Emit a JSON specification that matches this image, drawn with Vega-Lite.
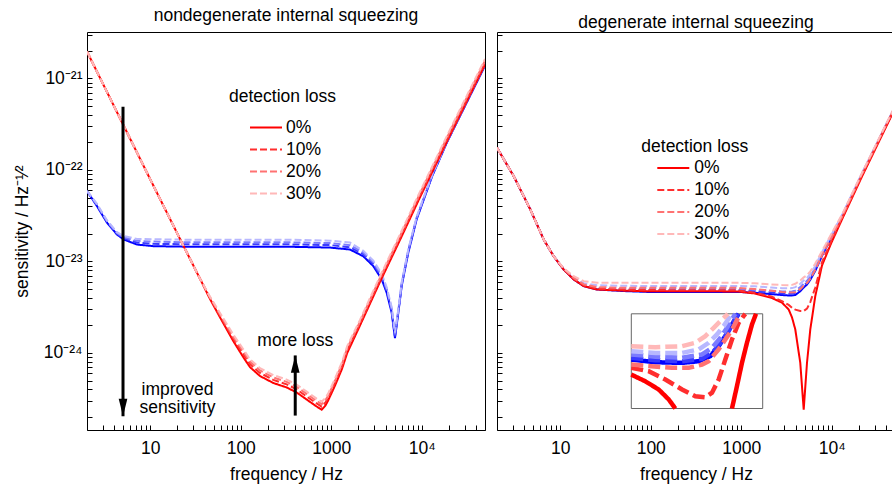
{
"$schema": "https://vega.github.io/schema/vega-lite/v6.json",
"background": "white",
"padding": {"left": 12, "top": 6, "right": 0, "bottom": 0},
"config": {
  "font": "Liberation Sans",
  "view": {"stroke": "#000000", "strokeWidth": 1},
  "axis": {"grid": false, "domain": false, "tickColor": "#000000", "tickWidth": 1, "tickSize": -5, "labelColor": "#000000", "labelFontSize": 17.5, "titleColor": "#000000", "titleFontSize": 17.5, "titleFontWeight": "normal", "labelOverlap": false, "labelFlush": false},
  "title": {"fontSize": 17.5, "fontWeight": "normal", "color": "#000000", "frame": "group", "offset": 1},
  "legend": {"symbolType": "M-2,0L2,0", "symbolSize": 256, "symbolStrokeWidth": 2, "labelFontSize": 17.5, "titleFontSize": 17.5, "titleFontWeight": "normal", "labelColor": "#000000", "titleColor": "#000000", "rowPadding": 4, "padding": 0, "orient": "none"}
},
"datasets": {
"arrows": [
 {"f": 5, "v": 2.04e-25, "v2": 4.9e-22, "dir": "down"},
 {"f": 400, "v": 9.4e-25, "v2": 2.07e-25, "dir": "up"}
],
"notes": [
 {"f": 20, "v": 3.95e-25, "label": "improved"},
 {"f": 20, "v": 2.5e-25, "label": "sensitivity"},
 {"f": 400, "v": 1.35e-24, "label": "more loss"}
],
"insetframe": [
 {"f": 2800, "f2": 5700, "v": 2.5e-24, "v2": 7.3e-24}
],
"curves": [
{"panel":"nondegenerate","series":"blue 0%","f":2,"v":5.9e-23},
{"panel":"nondegenerate","series":"blue 0%","f":2.58,"v":4.02e-23},
{"panel":"nondegenerate","series":"blue 0%","f":3.33,"v":2.65e-23},
{"panel":"nondegenerate","series":"blue 0%","f":4.29,"v":1.97e-23},
{"panel":"nondegenerate","series":"blue 0%","f":5.09,"v":1.74e-23},
{"panel":"nondegenerate","series":"blue 0%","f":7.14,"v":1.53e-23},
{"panel":"nondegenerate","series":"blue 0%","f":10.9,"v":1.47e-23},
{"panel":"nondegenerate","series":"blue 0%","f":25.5,"v":1.45e-23},
{"panel":"nondegenerate","series":"blue 0%","f":324,"v":1.45e-23},
{"panel":"nondegenerate","series":"blue 0%","f":968,"v":1.42e-23},
{"panel":"nondegenerate","series":"blue 0%","f":1610,"v":1.35e-23},
{"panel":"nondegenerate","series":"blue 0%","f":2260,"v":1.14e-23},
{"panel":"nondegenerate","series":"blue 0%","f":2916,"v":8.9e-24},
{"panel":"nondegenerate","series":"blue 0%","f":3608,"v":6.4e-24},
{"panel":"nondegenerate","series":"blue 0%","f":4100,"v":4.55e-24},
{"panel":"nondegenerate","series":"blue 0%","f":4656,"v":2.75e-24},
{"panel":"nondegenerate","series":"blue 0%","f":5060,"v":1.45e-24},
{"panel":"nondegenerate","series":"blue 0%","f":5508,"v":2.75e-24},
{"panel":"nondegenerate","series":"blue 0%","f":6000,"v":5.4e-24},
{"panel":"nondegenerate","series":"blue 0%","f":7100,"v":1.25e-23},
{"panel":"nondegenerate","series":"blue 0%","f":8790,"v":2.9e-23},
{"panel":"nondegenerate","series":"blue 0%","f":10400,"v":4.6e-23},
{"panel":"nondegenerate","series":"blue 0%","f":13000,"v":8.5e-23},
{"panel":"nondegenerate","series":"blue 0%","f":18880,"v":1.98e-22},
{"panel":"nondegenerate","series":"blue 0%","f":50000,"v":1.38e-21},
{"panel":"nondegenerate","series":"blue 10%","f":2,"v":5.9e-23},
{"panel":"nondegenerate","series":"blue 10%","f":2.58,"v":4.1e-23},
{"panel":"nondegenerate","series":"blue 10%","f":3.33,"v":2.7e-23},
{"panel":"nondegenerate","series":"blue 10%","f":4.29,"v":2.01e-23},
{"panel":"nondegenerate","series":"blue 10%","f":5.09,"v":1.79e-23},
{"panel":"nondegenerate","series":"blue 10%","f":7.14,"v":1.61e-23},
{"panel":"nondegenerate","series":"blue 10%","f":10.9,"v":1.56e-23},
{"panel":"nondegenerate","series":"blue 10%","f":25.5,"v":1.54e-23},
{"panel":"nondegenerate","series":"blue 10%","f":324,"v":1.54e-23},
{"panel":"nondegenerate","series":"blue 10%","f":968,"v":1.51e-23},
{"panel":"nondegenerate","series":"blue 10%","f":1610,"v":1.43e-23},
{"panel":"nondegenerate","series":"blue 10%","f":2260,"v":1.2e-23},
{"panel":"nondegenerate","series":"blue 10%","f":2916,"v":9.35e-24},
{"panel":"nondegenerate","series":"blue 10%","f":3608,"v":6.72e-24},
{"panel":"nondegenerate","series":"blue 10%","f":4100,"v":4.78e-24},
{"panel":"nondegenerate","series":"blue 10%","f":4656,"v":2.89e-24},
{"panel":"nondegenerate","series":"blue 10%","f":5060,"v":1.52e-24},
{"panel":"nondegenerate","series":"blue 10%","f":5508,"v":2.83e-24},
{"panel":"nondegenerate","series":"blue 10%","f":6000,"v":5.56e-24},
{"panel":"nondegenerate","series":"blue 10%","f":7100,"v":1.29e-23},
{"panel":"nondegenerate","series":"blue 10%","f":8790,"v":2.96e-23},
{"panel":"nondegenerate","series":"blue 10%","f":10400,"v":4.69e-23},
{"panel":"nondegenerate","series":"blue 10%","f":13000,"v":8.6e-23},
{"panel":"nondegenerate","series":"blue 10%","f":18880,"v":2.0e-22},
{"panel":"nondegenerate","series":"blue 10%","f":50000,"v":1.4e-21},
{"panel":"nondegenerate","series":"blue 20%","f":2,"v":5.9e-23},
{"panel":"nondegenerate","series":"blue 20%","f":2.58,"v":4.18e-23},
{"panel":"nondegenerate","series":"blue 20%","f":3.33,"v":2.76e-23},
{"panel":"nondegenerate","series":"blue 20%","f":4.29,"v":2.05e-23},
{"panel":"nondegenerate","series":"blue 20%","f":5.09,"v":1.84e-23},
{"panel":"nondegenerate","series":"blue 20%","f":7.14,"v":1.68e-23},
{"panel":"nondegenerate","series":"blue 20%","f":10.9,"v":1.65e-23},
{"panel":"nondegenerate","series":"blue 20%","f":25.5,"v":1.62e-23},
{"panel":"nondegenerate","series":"blue 20%","f":324,"v":1.62e-23},
{"panel":"nondegenerate","series":"blue 20%","f":968,"v":1.59e-23},
{"panel":"nondegenerate","series":"blue 20%","f":1610,"v":1.51e-23},
{"panel":"nondegenerate","series":"blue 20%","f":2260,"v":1.25e-23},
{"panel":"nondegenerate","series":"blue 20%","f":2916,"v":9.79e-24},
{"panel":"nondegenerate","series":"blue 20%","f":3608,"v":7.04e-24},
{"panel":"nondegenerate","series":"blue 20%","f":4100,"v":5.0e-24},
{"panel":"nondegenerate","series":"blue 20%","f":4656,"v":3.03e-24},
{"panel":"nondegenerate","series":"blue 20%","f":5060,"v":1.6e-24},
{"panel":"nondegenerate","series":"blue 20%","f":5508,"v":2.92e-24},
{"panel":"nondegenerate","series":"blue 20%","f":6000,"v":5.72e-24},
{"panel":"nondegenerate","series":"blue 20%","f":7100,"v":1.33e-23},
{"panel":"nondegenerate","series":"blue 20%","f":8790,"v":3.02e-23},
{"panel":"nondegenerate","series":"blue 20%","f":10400,"v":4.78e-23},
{"panel":"nondegenerate","series":"blue 20%","f":13000,"v":8.7e-23},
{"panel":"nondegenerate","series":"blue 20%","f":18880,"v":2.02e-22},
{"panel":"nondegenerate","series":"blue 20%","f":50000,"v":1.42e-21},
{"panel":"nondegenerate","series":"blue 30%","f":2,"v":5.9e-23},
{"panel":"nondegenerate","series":"blue 30%","f":2.58,"v":4.26e-23},
{"panel":"nondegenerate","series":"blue 30%","f":3.33,"v":2.81e-23},
{"panel":"nondegenerate","series":"blue 30%","f":4.29,"v":2.09e-23},
{"panel":"nondegenerate","series":"blue 30%","f":5.09,"v":1.9e-23},
{"panel":"nondegenerate","series":"blue 30%","f":7.14,"v":1.76e-23},
{"panel":"nondegenerate","series":"blue 30%","f":10.9,"v":1.75e-23},
{"panel":"nondegenerate","series":"blue 30%","f":25.5,"v":1.73e-23},
{"panel":"nondegenerate","series":"blue 30%","f":324,"v":1.73e-23},
{"panel":"nondegenerate","series":"blue 30%","f":968,"v":1.69e-23},
{"panel":"nondegenerate","series":"blue 30%","f":1610,"v":1.61e-23},
{"panel":"nondegenerate","series":"blue 30%","f":2260,"v":1.31e-23},
{"panel":"nondegenerate","series":"blue 30%","f":2916,"v":1.02e-23},
{"panel":"nondegenerate","series":"blue 30%","f":3608,"v":7.36e-24},
{"panel":"nondegenerate","series":"blue 30%","f":4100,"v":5.23e-24},
{"panel":"nondegenerate","series":"blue 30%","f":4656,"v":3.16e-24},
{"panel":"nondegenerate","series":"blue 30%","f":5060,"v":1.67e-24},
{"panel":"nondegenerate","series":"blue 30%","f":5508,"v":3.0e-24},
{"panel":"nondegenerate","series":"blue 30%","f":6000,"v":5.89e-24},
{"panel":"nondegenerate","series":"blue 30%","f":7100,"v":1.36e-23},
{"panel":"nondegenerate","series":"blue 30%","f":8790,"v":3.07e-23},
{"panel":"nondegenerate","series":"blue 30%","f":10400,"v":4.88e-23},
{"panel":"nondegenerate","series":"blue 30%","f":13000,"v":8.8e-23},
{"panel":"nondegenerate","series":"blue 30%","f":18880,"v":2.04e-22},
{"panel":"nondegenerate","series":"blue 30%","f":50000,"v":1.44e-21},
{"panel":"nondegenerate","series":"red 0%","f":2,"v":1.97e-21},
{"panel":"nondegenerate","series":"red 0%","f":5,"v":3.15e-22},
{"panel":"nondegenerate","series":"red 0%","f":10,"v":7.9e-23},
{"panel":"nondegenerate","series":"red 0%","f":22.4,"v":1.6e-23},
{"panel":"nondegenerate","series":"red 0%","f":35.7,"v":6.4e-24},
{"panel":"nondegenerate","series":"red 0%","f":45.7,"v":3.9e-24},
{"panel":"nondegenerate","series":"red 0%","f":59,"v":2.45e-24},
{"panel":"nondegenerate","series":"red 0%","f":82.7,"v":1.35e-24},
{"panel":"nondegenerate","series":"red 0%","f":106.7,"v":9.0e-25},
{"panel":"nondegenerate","series":"red 0%","f":126.5,"v":7.0e-25},
{"panel":"nondegenerate","series":"red 0%","f":163,"v":5.6e-25},
{"panel":"nondegenerate","series":"red 0%","f":229,"v":4.7e-25},
{"panel":"nondegenerate","series":"red 0%","f":322,"v":4.2e-25},
{"panel":"nondegenerate","series":"red 0%","f":415,"v":3.7e-25},
{"panel":"nondegenerate","series":"red 0%","f":535,"v":3.1e-25},
{"panel":"nondegenerate","series":"red 0%","f":690,"v":2.6e-25},
{"panel":"nondegenerate","series":"red 0%","f":784,"v":2.4e-25},
{"panel":"nondegenerate","series":"red 0%","f":860,"v":2.65e-25},
{"panel":"nondegenerate","series":"red 0%","f":920,"v":3.0e-25},
{"panel":"nondegenerate","series":"red 0%","f":1100,"v":4.4e-25},
{"panel":"nondegenerate","series":"red 0%","f":1314,"v":6.7e-25},
{"panel":"nondegenerate","series":"red 0%","f":1500,"v":1.0e-24},
{"panel":"nondegenerate","series":"red 0%","f":2078,"v":2.0e-24},
{"panel":"nondegenerate","series":"red 0%","f":3458,"v":6.0e-24},
{"panel":"nondegenerate","series":"red 0%","f":5750,"v":1.72e-23},
{"panel":"nondegenerate","series":"red 0%","f":9160,"v":4.6e-23},
{"panel":"nondegenerate","series":"red 0%","f":20500,"v":2.4e-22},
{"panel":"nondegenerate","series":"red 0%","f":50000,"v":1.42e-21},
{"panel":"nondegenerate","series":"red 10%","f":2,"v":1.97e-21},
{"panel":"nondegenerate","series":"red 10%","f":5,"v":3.15e-22},
{"panel":"nondegenerate","series":"red 10%","f":10,"v":7.9e-23},
{"panel":"nondegenerate","series":"red 10%","f":22.4,"v":1.6e-23},
{"panel":"nondegenerate","series":"red 10%","f":35.7,"v":6.4e-24},
{"panel":"nondegenerate","series":"red 10%","f":45.7,"v":3.98e-24},
{"panel":"nondegenerate","series":"red 10%","f":59,"v":2.55e-24},
{"panel":"nondegenerate","series":"red 10%","f":82.7,"v":1.43e-24},
{"panel":"nondegenerate","series":"red 10%","f":106.7,"v":9.72e-25},
{"panel":"nondegenerate","series":"red 10%","f":126.5,"v":7.56e-25},
{"panel":"nondegenerate","series":"red 10%","f":163,"v":6.05e-25},
{"panel":"nondegenerate","series":"red 10%","f":229,"v":5.08e-25},
{"panel":"nondegenerate","series":"red 10%","f":322,"v":4.54e-25},
{"panel":"nondegenerate","series":"red 10%","f":415,"v":4.0e-25},
{"panel":"nondegenerate","series":"red 10%","f":535,"v":3.35e-25},
{"panel":"nondegenerate","series":"red 10%","f":690,"v":2.81e-25},
{"panel":"nondegenerate","series":"red 10%","f":784,"v":2.59e-25},
{"panel":"nondegenerate","series":"red 10%","f":860,"v":2.86e-25},
{"panel":"nondegenerate","series":"red 10%","f":920,"v":3.21e-25},
{"panel":"nondegenerate","series":"red 10%","f":1100,"v":4.71e-25},
{"panel":"nondegenerate","series":"red 10%","f":1314,"v":7.17e-25},
{"panel":"nondegenerate","series":"red 10%","f":1500,"v":1.07e-24},
{"panel":"nondegenerate","series":"red 10%","f":2078,"v":2.1e-24},
{"panel":"nondegenerate","series":"red 10%","f":3458,"v":6.3e-24},
{"panel":"nondegenerate","series":"red 10%","f":5750,"v":1.81e-23},
{"panel":"nondegenerate","series":"red 10%","f":9160,"v":4.83e-23},
{"panel":"nondegenerate","series":"red 10%","f":20500,"v":2.52e-22},
{"panel":"nondegenerate","series":"red 10%","f":50000,"v":1.49e-21},
{"panel":"nondegenerate","series":"red 20%","f":2,"v":1.97e-21},
{"panel":"nondegenerate","series":"red 20%","f":5,"v":3.15e-22},
{"panel":"nondegenerate","series":"red 20%","f":10,"v":7.9e-23},
{"panel":"nondegenerate","series":"red 20%","f":22.4,"v":1.6e-23},
{"panel":"nondegenerate","series":"red 20%","f":35.7,"v":6.4e-24},
{"panel":"nondegenerate","series":"red 20%","f":45.7,"v":4.06e-24},
{"panel":"nondegenerate","series":"red 20%","f":59,"v":2.65e-24},
{"panel":"nondegenerate","series":"red 20%","f":82.7,"v":1.51e-24},
{"panel":"nondegenerate","series":"red 20%","f":106.7,"v":1.035e-24},
{"panel":"nondegenerate","series":"red 20%","f":126.5,"v":8.05e-25},
{"panel":"nondegenerate","series":"red 20%","f":163,"v":6.44e-25},
{"panel":"nondegenerate","series":"red 20%","f":229,"v":5.41e-25},
{"panel":"nondegenerate","series":"red 20%","f":322,"v":4.83e-25},
{"panel":"nondegenerate","series":"red 20%","f":415,"v":4.26e-25},
{"panel":"nondegenerate","series":"red 20%","f":535,"v":3.57e-25},
{"panel":"nondegenerate","series":"red 20%","f":690,"v":2.99e-25},
{"panel":"nondegenerate","series":"red 20%","f":784,"v":2.76e-25},
{"panel":"nondegenerate","series":"red 20%","f":860,"v":3.05e-25},
{"panel":"nondegenerate","series":"red 20%","f":920,"v":3.39e-25},
{"panel":"nondegenerate","series":"red 20%","f":1100,"v":4.97e-25},
{"panel":"nondegenerate","series":"red 20%","f":1314,"v":7.57e-25},
{"panel":"nondegenerate","series":"red 20%","f":1500,"v":1.13e-24},
{"panel":"nondegenerate","series":"red 20%","f":2078,"v":2.2e-24},
{"panel":"nondegenerate","series":"red 20%","f":3458,"v":6.6e-24},
{"panel":"nondegenerate","series":"red 20%","f":5750,"v":1.89e-23},
{"panel":"nondegenerate","series":"red 20%","f":9160,"v":5.06e-23},
{"panel":"nondegenerate","series":"red 20%","f":20500,"v":2.64e-22},
{"panel":"nondegenerate","series":"red 20%","f":50000,"v":1.56e-21},
{"panel":"nondegenerate","series":"red 30%","f":2,"v":1.97e-21},
{"panel":"nondegenerate","series":"red 30%","f":5,"v":3.15e-22},
{"panel":"nondegenerate","series":"red 30%","f":10,"v":7.9e-23},
{"panel":"nondegenerate","series":"red 30%","f":22.4,"v":1.6e-23},
{"panel":"nondegenerate","series":"red 30%","f":35.7,"v":6.4e-24},
{"panel":"nondegenerate","series":"red 30%","f":45.7,"v":4.13e-24},
{"panel":"nondegenerate","series":"red 30%","f":59,"v":2.74e-24},
{"panel":"nondegenerate","series":"red 30%","f":82.7,"v":1.59e-24},
{"panel":"nondegenerate","series":"red 30%","f":106.7,"v":1.1e-24},
{"panel":"nondegenerate","series":"red 30%","f":126.5,"v":8.54e-25},
{"panel":"nondegenerate","series":"red 30%","f":163,"v":6.83e-25},
{"panel":"nondegenerate","series":"red 30%","f":229,"v":5.73e-25},
{"panel":"nondegenerate","series":"red 30%","f":322,"v":5.12e-25},
{"panel":"nondegenerate","series":"red 30%","f":415,"v":4.51e-25},
{"panel":"nondegenerate","series":"red 30%","f":535,"v":3.78e-25},
{"panel":"nondegenerate","series":"red 30%","f":690,"v":3.17e-25},
{"panel":"nondegenerate","series":"red 30%","f":784,"v":2.93e-25},
{"panel":"nondegenerate","series":"red 30%","f":860,"v":3.23e-25},
{"panel":"nondegenerate","series":"red 30%","f":920,"v":3.57e-25},
{"panel":"nondegenerate","series":"red 30%","f":1100,"v":5.24e-25},
{"panel":"nondegenerate","series":"red 30%","f":1314,"v":7.97e-25},
{"panel":"nondegenerate","series":"red 30%","f":1500,"v":1.19e-24},
{"panel":"nondegenerate","series":"red 30%","f":2078,"v":2.3e-24},
{"panel":"nondegenerate","series":"red 30%","f":3458,"v":6.9e-24},
{"panel":"nondegenerate","series":"red 30%","f":5750,"v":1.98e-23},
{"panel":"nondegenerate","series":"red 30%","f":9160,"v":5.29e-23},
{"panel":"nondegenerate","series":"red 30%","f":20500,"v":2.76e-22},
{"panel":"nondegenerate","series":"red 30%","f":50000,"v":1.63e-21},

{"panel":"degenerate","series":"blue 0%","f":2,"v":1.75e-22},
{"panel":"degenerate","series":"blue 0%","f":3.06,"v":8.55e-23},
{"panel":"degenerate","series":"blue 0%","f":4.67,"v":3.7e-23},
{"panel":"degenerate","series":"blue 0%","f":6.56,"v":1.74e-23},
{"panel":"degenerate","series":"blue 0%","f":8.46,"v":1.14e-23},
{"panel":"degenerate","series":"blue 0%","f":10.9,"v":8.18e-24},
{"panel":"degenerate","series":"blue 0%","f":14.1,"v":6.36e-24},
{"panel":"degenerate","series":"blue 0%","f":18.2,"v":5.37e-24},
{"panel":"degenerate","series":"blue 0%","f":25.5,"v":4.94e-24},
{"panel":"degenerate","series":"blue 0%","f":50,"v":4.75e-24},
{"panel":"degenerate","series":"blue 0%","f":90.8,"v":4.65e-24},
{"panel":"degenerate","series":"blue 0%","f":200,"v":4.65e-24},
{"panel":"degenerate","series":"blue 0%","f":500,"v":4.65e-24},
{"panel":"degenerate","series":"blue 0%","f":920,"v":4.65e-24},
{"panel":"degenerate","series":"blue 0%","f":1407,"v":4.55e-24},
{"panel":"degenerate","series":"blue 0%","f":2148,"v":4.4e-24},
{"panel":"degenerate","series":"blue 0%","f":2820,"v":4.3e-24},
{"panel":"degenerate","series":"blue 0%","f":3342,"v":4.25e-24},
{"panel":"degenerate","series":"blue 0%","f":3638,"v":4.25e-24},
{"panel":"degenerate","series":"blue 0%","f":3954,"v":4.3e-24},
{"panel":"degenerate","series":"blue 0%","f":4490,"v":4.73e-24},
{"panel":"degenerate","series":"blue 0%","f":4898,"v":5.2e-24},
{"panel":"degenerate","series":"blue 0%","f":5327,"v":5.6e-24},
{"panel":"degenerate","series":"blue 0%","f":5794,"v":6.3e-24},
{"panel":"degenerate","series":"blue 0%","f":6578,"v":7.9e-24},
{"panel":"degenerate","series":"blue 0%","f":7800,"v":1.15e-23},
{"panel":"degenerate","series":"blue 0%","f":9816,"v":1.8e-23},
{"panel":"degenerate","series":"blue 0%","f":12972,"v":3.1e-23},
{"panel":"degenerate","series":"blue 0%","f":21580,"v":8.9e-23},
{"panel":"degenerate","series":"blue 0%","f":50000,"v":4.85e-22},
{"panel":"degenerate","series":"blue 10%","f":2,"v":1.75e-22},
{"panel":"degenerate","series":"blue 10%","f":3.06,"v":8.55e-23},
{"panel":"degenerate","series":"blue 10%","f":4.67,"v":3.7e-23},
{"panel":"degenerate","series":"blue 10%","f":6.56,"v":1.74e-23},
{"panel":"degenerate","series":"blue 10%","f":8.46,"v":1.14e-23},
{"panel":"degenerate","series":"blue 10%","f":10.9,"v":8.26e-24},
{"panel":"degenerate","series":"blue 10%","f":14.1,"v":6.49e-24},
{"panel":"degenerate","series":"blue 10%","f":18.2,"v":5.48e-24},
{"panel":"degenerate","series":"blue 10%","f":25.5,"v":5.05e-24},
{"panel":"degenerate","series":"blue 10%","f":50,"v":4.92e-24},
{"panel":"degenerate","series":"blue 10%","f":90.8,"v":4.84e-24},
{"panel":"degenerate","series":"blue 10%","f":200,"v":4.84e-24},
{"panel":"degenerate","series":"blue 10%","f":500,"v":4.84e-24},
{"panel":"degenerate","series":"blue 10%","f":920,"v":4.84e-24},
{"panel":"degenerate","series":"blue 10%","f":1407,"v":4.74e-24},
{"panel":"degenerate","series":"blue 10%","f":2148,"v":4.58e-24},
{"panel":"degenerate","series":"blue 10%","f":2820,"v":4.48e-24},
{"panel":"degenerate","series":"blue 10%","f":3342,"v":4.45e-24},
{"panel":"degenerate","series":"blue 10%","f":3638,"v":4.45e-24},
{"panel":"degenerate","series":"blue 10%","f":3954,"v":4.52e-24},
{"panel":"degenerate","series":"blue 10%","f":4490,"v":4.95e-24},
{"panel":"degenerate","series":"blue 10%","f":4898,"v":5.45e-24},
{"panel":"degenerate","series":"blue 10%","f":5327,"v":5.85e-24},
{"panel":"degenerate","series":"blue 10%","f":5794,"v":6.55e-24},
{"panel":"degenerate","series":"blue 10%","f":6578,"v":8.2e-24},
{"panel":"degenerate","series":"blue 10%","f":7800,"v":1.18e-23},
{"panel":"degenerate","series":"blue 10%","f":9816,"v":1.84e-23},
{"panel":"degenerate","series":"blue 10%","f":12972,"v":3.13e-23},
{"panel":"degenerate","series":"blue 10%","f":21580,"v":9.0e-23},
{"panel":"degenerate","series":"blue 10%","f":50000,"v":4.87e-22},
{"panel":"degenerate","series":"blue 20%","f":2,"v":1.75e-22},
{"panel":"degenerate","series":"blue 20%","f":3.06,"v":8.55e-23},
{"panel":"degenerate","series":"blue 20%","f":4.67,"v":3.7e-23},
{"panel":"degenerate","series":"blue 20%","f":6.56,"v":1.74e-23},
{"panel":"degenerate","series":"blue 20%","f":8.46,"v":1.14e-23},
{"panel":"degenerate","series":"blue 20%","f":10.9,"v":8.34e-24},
{"panel":"degenerate","series":"blue 20%","f":14.1,"v":6.55e-24},
{"panel":"degenerate","series":"blue 20%","f":18.2,"v":5.58e-24},
{"panel":"degenerate","series":"blue 20%","f":25.5,"v":5.15e-24},
{"panel":"degenerate","series":"blue 20%","f":50,"v":5.05e-24},
{"panel":"degenerate","series":"blue 20%","f":90.8,"v":5.0e-24},
{"panel":"degenerate","series":"blue 20%","f":200,"v":5.0e-24},
{"panel":"degenerate","series":"blue 20%","f":500,"v":5.0e-24},
{"panel":"degenerate","series":"blue 20%","f":920,"v":5.0e-24},
{"panel":"degenerate","series":"blue 20%","f":1407,"v":4.92e-24},
{"panel":"degenerate","series":"blue 20%","f":2148,"v":4.78e-24},
{"panel":"degenerate","series":"blue 20%","f":2820,"v":4.7e-24},
{"panel":"degenerate","series":"blue 20%","f":3342,"v":4.68e-24},
{"panel":"degenerate","series":"blue 20%","f":3638,"v":4.7e-24},
{"panel":"degenerate","series":"blue 20%","f":3954,"v":4.8e-24},
{"panel":"degenerate","series":"blue 20%","f":4490,"v":5.25e-24},
{"panel":"degenerate","series":"blue 20%","f":4898,"v":5.75e-24},
{"panel":"degenerate","series":"blue 20%","f":5327,"v":6.15e-24},
{"panel":"degenerate","series":"blue 20%","f":5794,"v":6.85e-24},
{"panel":"degenerate","series":"blue 20%","f":6578,"v":8.5e-24},
{"panel":"degenerate","series":"blue 20%","f":7800,"v":1.21e-23},
{"panel":"degenerate","series":"blue 20%","f":9816,"v":1.87e-23},
{"panel":"degenerate","series":"blue 20%","f":12972,"v":3.16e-23},
{"panel":"degenerate","series":"blue 20%","f":21580,"v":9.1e-23},
{"panel":"degenerate","series":"blue 20%","f":50000,"v":4.9e-22},
{"panel":"degenerate","series":"blue 30%","f":2,"v":1.75e-22},
{"panel":"degenerate","series":"blue 30%","f":3.06,"v":8.55e-23},
{"panel":"degenerate","series":"blue 30%","f":4.67,"v":3.7e-23},
{"panel":"degenerate","series":"blue 30%","f":6.56,"v":1.74e-23},
{"panel":"degenerate","series":"blue 30%","f":8.46,"v":1.14e-23},
{"panel":"degenerate","series":"blue 30%","f":10.9,"v":8.35e-24},
{"panel":"degenerate","series":"blue 30%","f":14.1,"v":6.7e-24},
{"panel":"degenerate","series":"blue 30%","f":18.2,"v":5.8e-24},
{"panel":"degenerate","series":"blue 30%","f":25.5,"v":5.5e-24},
{"panel":"degenerate","series":"blue 30%","f":50,"v":5.42e-24},
{"panel":"degenerate","series":"blue 30%","f":90.8,"v":5.4e-24},
{"panel":"degenerate","series":"blue 30%","f":200,"v":5.4e-24},
{"panel":"degenerate","series":"blue 30%","f":500,"v":5.4e-24},
{"panel":"degenerate","series":"blue 30%","f":920,"v":5.4e-24},
{"panel":"degenerate","series":"blue 30%","f":1407,"v":5.35e-24},
{"panel":"degenerate","series":"blue 30%","f":2148,"v":5.2e-24},
{"panel":"degenerate","series":"blue 30%","f":2820,"v":5.1e-24},
{"panel":"degenerate","series":"blue 30%","f":3342,"v":5.1e-24},
{"panel":"degenerate","series":"blue 30%","f":3638,"v":5.12e-24},
{"panel":"degenerate","series":"blue 30%","f":3954,"v":5.25e-24},
{"panel":"degenerate","series":"blue 30%","f":4490,"v":5.7e-24},
{"panel":"degenerate","series":"blue 30%","f":4898,"v":6.2e-24},
{"panel":"degenerate","series":"blue 30%","f":5327,"v":6.6e-24},
{"panel":"degenerate","series":"blue 30%","f":5794,"v":7.3e-24},
{"panel":"degenerate","series":"blue 30%","f":6578,"v":9.0e-24},
{"panel":"degenerate","series":"blue 30%","f":7800,"v":1.26e-23},
{"panel":"degenerate","series":"blue 30%","f":9816,"v":1.92e-23},
{"panel":"degenerate","series":"blue 30%","f":12972,"v":3.2e-23},
{"panel":"degenerate","series":"blue 30%","f":21580,"v":9.2e-23},
{"panel":"degenerate","series":"blue 30%","f":50000,"v":4.93e-22},
{"panel":"degenerate","series":"red 0%","f":2,"v":1.75e-22},
{"panel":"degenerate","series":"red 0%","f":3.06,"v":8.55e-23},
{"panel":"degenerate","series":"red 0%","f":4.67,"v":3.7e-23},
{"panel":"degenerate","series":"red 0%","f":6.56,"v":1.74e-23},
{"panel":"degenerate","series":"red 0%","f":8.46,"v":1.14e-23},
{"panel":"degenerate","series":"red 0%","f":10.9,"v":8.18e-24},
{"panel":"degenerate","series":"red 0%","f":14.1,"v":6.36e-24},
{"panel":"degenerate","series":"red 0%","f":18.2,"v":5.37e-24},
{"panel":"degenerate","series":"red 0%","f":25.5,"v":4.94e-24},
{"panel":"degenerate","series":"red 0%","f":50,"v":4.8e-24},
{"panel":"degenerate","series":"red 0%","f":90.8,"v":4.73e-24},
{"panel":"degenerate","series":"red 0%","f":200,"v":4.72e-24},
{"panel":"degenerate","series":"red 0%","f":500,"v":4.72e-24},
{"panel":"degenerate","series":"red 0%","f":920,"v":4.7e-24},
{"panel":"degenerate","series":"red 0%","f":1407,"v":4.47e-24},
{"panel":"degenerate","series":"red 0%","f":2148,"v":4.01e-24},
{"panel":"degenerate","series":"red 0%","f":2820,"v":3.55e-24},
{"panel":"degenerate","series":"red 0%","f":3342,"v":2.99e-24},
{"panel":"degenerate","series":"red 0%","f":3638,"v":2.45e-24},
{"panel":"degenerate","series":"red 0%","f":3954,"v":1.81e-24},
{"panel":"degenerate","series":"red 0%","f":4490,"v":7.8e-25},
{"panel":"degenerate","series":"red 0%","f":4898,"v":2.4e-25},
{"panel":"degenerate","series":"red 0%","f":5327,"v":7.8e-25},
{"panel":"degenerate","series":"red 0%","f":5794,"v":1.81e-24},
{"panel":"degenerate","series":"red 0%","f":6578,"v":4.18e-24},
{"panel":"degenerate","series":"red 0%","f":7800,"v":9.04e-24},
{"panel":"degenerate","series":"red 0%","f":9816,"v":1.57e-23},
{"panel":"degenerate","series":"red 0%","f":12972,"v":2.88e-23},
{"panel":"degenerate","series":"red 0%","f":21580,"v":8.49e-23},
{"panel":"degenerate","series":"red 0%","f":50000,"v":4.7e-22},
{"panel":"degenerate","series":"red 10%","f":2,"v":1.75e-22},
{"panel":"degenerate","series":"red 10%","f":3.06,"v":8.55e-23},
{"panel":"degenerate","series":"red 10%","f":4.67,"v":3.7e-23},
{"panel":"degenerate","series":"red 10%","f":6.56,"v":1.74e-23},
{"panel":"degenerate","series":"red 10%","f":8.46,"v":1.14e-23},
{"panel":"degenerate","series":"red 10%","f":10.9,"v":8.26e-24},
{"panel":"degenerate","series":"red 10%","f":14.1,"v":6.49e-24},
{"panel":"degenerate","series":"red 10%","f":18.2,"v":5.48e-24},
{"panel":"degenerate","series":"red 10%","f":25.5,"v":5.05e-24},
{"panel":"degenerate","series":"red 10%","f":50,"v":4.94e-24},
{"panel":"degenerate","series":"red 10%","f":90.8,"v":4.87e-24},
{"panel":"degenerate","series":"red 10%","f":200,"v":4.86e-24},
{"panel":"degenerate","series":"red 10%","f":500,"v":4.86e-24},
{"panel":"degenerate","series":"red 10%","f":920,"v":4.84e-24},
{"panel":"degenerate","series":"red 10%","f":1407,"v":4.55e-24},
{"panel":"degenerate","series":"red 10%","f":2148,"v":4.15e-24},
{"panel":"degenerate","series":"red 10%","f":2820,"v":3.68e-24},
{"panel":"degenerate","series":"red 10%","f":3342,"v":3.35e-24},
{"panel":"degenerate","series":"red 10%","f":3638,"v":3.12e-24},
{"panel":"degenerate","series":"red 10%","f":3954,"v":2.98e-24},
{"panel":"degenerate","series":"red 10%","f":4490,"v":2.88e-24},
{"panel":"degenerate","series":"red 10%","f":4898,"v":2.88e-24},
{"panel":"degenerate","series":"red 10%","f":5327,"v":3.05e-24},
{"panel":"degenerate","series":"red 10%","f":5794,"v":3.6e-24},
{"panel":"degenerate","series":"red 10%","f":6578,"v":5.2e-24},
{"panel":"degenerate","series":"red 10%","f":7800,"v":9.8e-24},
{"panel":"degenerate","series":"red 10%","f":9816,"v":1.65e-23},
{"panel":"degenerate","series":"red 10%","f":12972,"v":3.0e-23},
{"panel":"degenerate","series":"red 10%","f":21580,"v":8.8e-23},
{"panel":"degenerate","series":"red 10%","f":50000,"v":4.85e-22},
{"panel":"degenerate","series":"red 20%","f":2,"v":1.75e-22},
{"panel":"degenerate","series":"red 20%","f":3.06,"v":8.55e-23},
{"panel":"degenerate","series":"red 20%","f":4.67,"v":3.7e-23},
{"panel":"degenerate","series":"red 20%","f":6.56,"v":1.74e-23},
{"panel":"degenerate","series":"red 20%","f":8.46,"v":1.14e-23},
{"panel":"degenerate","series":"red 20%","f":10.9,"v":8.34e-24},
{"panel":"degenerate","series":"red 20%","f":14.1,"v":6.6e-24},
{"panel":"degenerate","series":"red 20%","f":18.2,"v":5.62e-24},
{"panel":"degenerate","series":"red 20%","f":25.5,"v":5.25e-24},
{"panel":"degenerate","series":"red 20%","f":50,"v":5.15e-24},
{"panel":"degenerate","series":"red 20%","f":90.8,"v":5.15e-24},
{"panel":"degenerate","series":"red 20%","f":200,"v":5.15e-24},
{"panel":"degenerate","series":"red 20%","f":500,"v":5.15e-24},
{"panel":"degenerate","series":"red 20%","f":920,"v":5.15e-24},
{"panel":"degenerate","series":"red 20%","f":1407,"v":5.0e-24},
{"panel":"degenerate","series":"red 20%","f":2148,"v":4.8e-24},
{"panel":"degenerate","series":"red 20%","f":2820,"v":4.65e-24},
{"panel":"degenerate","series":"red 20%","f":3342,"v":4.58e-24},
{"panel":"degenerate","series":"red 20%","f":3638,"v":4.58e-24},
{"panel":"degenerate","series":"red 20%","f":3954,"v":4.62e-24},
{"panel":"degenerate","series":"red 20%","f":4490,"v":4.98e-24},
{"panel":"degenerate","series":"red 20%","f":4898,"v":5.42e-24},
{"panel":"degenerate","series":"red 20%","f":5327,"v":5.82e-24},
{"panel":"degenerate","series":"red 20%","f":5794,"v":6.5e-24},
{"panel":"degenerate","series":"red 20%","f":6578,"v":8.1e-24},
{"panel":"degenerate","series":"red 20%","f":7800,"v":1.17e-23},
{"panel":"degenerate","series":"red 20%","f":9816,"v":1.8e-23},
{"panel":"degenerate","series":"red 20%","f":12972,"v":3.05e-23},
{"panel":"degenerate","series":"red 20%","f":21580,"v":9.0e-23},
{"panel":"degenerate","series":"red 20%","f":50000,"v":4.9e-22},
{"panel":"degenerate","series":"red 30%","f":2,"v":1.75e-22},
{"panel":"degenerate","series":"red 30%","f":3.06,"v":8.55e-23},
{"panel":"degenerate","series":"red 30%","f":4.67,"v":3.7e-23},
{"panel":"degenerate","series":"red 30%","f":6.56,"v":1.74e-23},
{"panel":"degenerate","series":"red 30%","f":8.46,"v":1.14e-23},
{"panel":"degenerate","series":"red 30%","f":10.9,"v":8.45e-24},
{"panel":"degenerate","series":"red 30%","f":14.1,"v":6.9e-24},
{"panel":"degenerate","series":"red 30%","f":18.2,"v":6.1e-24},
{"panel":"degenerate","series":"red 30%","f":25.5,"v":5.85e-24},
{"panel":"degenerate","series":"red 30%","f":50,"v":5.85e-24},
{"panel":"degenerate","series":"red 30%","f":90.8,"v":5.85e-24},
{"panel":"degenerate","series":"red 30%","f":200,"v":5.85e-24},
{"panel":"degenerate","series":"red 30%","f":500,"v":5.85e-24},
{"panel":"degenerate","series":"red 30%","f":920,"v":5.85e-24},
{"panel":"degenerate","series":"red 30%","f":1407,"v":5.78e-24},
{"panel":"degenerate","series":"red 30%","f":2148,"v":5.62e-24},
{"panel":"degenerate","series":"red 30%","f":2820,"v":5.52e-24},
{"panel":"degenerate","series":"red 30%","f":3342,"v":5.5e-24},
{"panel":"degenerate","series":"red 30%","f":3638,"v":5.55e-24},
{"panel":"degenerate","series":"red 30%","f":3954,"v":5.7e-24},
{"panel":"degenerate","series":"red 30%","f":4490,"v":6.2e-24},
{"panel":"degenerate","series":"red 30%","f":4898,"v":6.7e-24},
{"panel":"degenerate","series":"red 30%","f":5327,"v":7.1e-24},
{"panel":"degenerate","series":"red 30%","f":5794,"v":7.8e-24},
{"panel":"degenerate","series":"red 30%","f":6578,"v":9.5e-24},
{"panel":"degenerate","series":"red 30%","f":7800,"v":1.3e-23},
{"panel":"degenerate","series":"red 30%","f":9816,"v":1.97e-23},
{"panel":"degenerate","series":"red 30%","f":12972,"v":3.25e-23},
{"panel":"degenerate","series":"red 30%","f":21580,"v":9.3e-23},
{"panel":"degenerate","series":"red 30%","f":50000,"v":5.0e-22},

{"panel":"inset","series":"blue 0%","seg":"a","f":2800,"v":4.35e-24},
{"panel":"inset","series":"blue 0%","seg":"a","f":3190,"v":4.22e-24},
{"panel":"inset","series":"blue 0%","seg":"a","f":3684,"v":4.19e-24},
{"panel":"inset","series":"blue 0%","seg":"a","f":4031,"v":4.27e-24},
{"panel":"inset","series":"blue 0%","seg":"a","f":4294,"v":4.52e-24},
{"panel":"inset","series":"blue 0%","seg":"a","f":4491,"v":5.06e-24},
{"panel":"inset","series":"blue 0%","seg":"a","f":4656,"v":5.67e-24},
{"panel":"inset","series":"blue 0%","seg":"a","f":4827,"v":6.47e-24},
{"panel":"inset","series":"blue 0%","seg":"a","f":5004,"v":7.3e-24},
{"panel":"inset","series":"blue 10%","seg":"a","f":2800,"v":4.44e-24},
{"panel":"inset","series":"blue 10%","seg":"a","f":3190,"v":4.32e-24},
{"panel":"inset","series":"blue 10%","seg":"a","f":3684,"v":4.27e-24},
{"panel":"inset","series":"blue 10%","seg":"a","f":4105,"v":4.39e-24},
{"panel":"inset","series":"blue 10%","seg":"a","f":4372,"v":4.78e-24},
{"panel":"inset","series":"blue 10%","seg":"a","f":4573,"v":5.36e-24},
{"panel":"inset","series":"blue 10%","seg":"a","f":4740,"v":6.0e-24},
{"panel":"inset","series":"blue 10%","seg":"a","f":4986,"v":7.3e-24},
{"panel":"inset","series":"blue 20%","seg":"a","f":2800,"v":4.61e-24},
{"panel":"inset","series":"blue 20%","seg":"a","f":3190,"v":4.49e-24},
{"panel":"inset","series":"blue 20%","seg":"a","f":3684,"v":4.44e-24},
{"panel":"inset","series":"blue 20%","seg":"a","f":4105,"v":4.61e-24},
{"panel":"inset","series":"blue 20%","seg":"a","f":4333,"v":4.97e-24},
{"panel":"inset","series":"blue 20%","seg":"a","f":4532,"v":5.56e-24},
{"panel":"inset","series":"blue 20%","seg":"a","f":4698,"v":6.23e-24},
{"panel":"inset","series":"blue 20%","seg":"a","f":4914,"v":7.3e-24},
{"panel":"inset","series":"blue 30%","seg":"a","f":2800,"v":4.78e-24},
{"panel":"inset","series":"blue 30%","seg":"a","f":3190,"v":4.69e-24},
{"panel":"inset","series":"blue 30%","seg":"a","f":3684,"v":4.69e-24},
{"panel":"inset","series":"blue 30%","seg":"a","f":4031,"v":4.88e-24},
{"panel":"inset","series":"blue 30%","seg":"a","f":4255,"v":5.26e-24},
{"panel":"inset","series":"blue 30%","seg":"a","f":4451,"v":5.78e-24},
{"panel":"inset","series":"blue 30%","seg":"a","f":4614,"v":6.35e-24},
{"panel":"inset","series":"blue 30%","seg":"a","f":4827,"v":7.3e-24},
{"panel":"inset","series":"red 0%","seg":"a","f":2800,"v":3.67e-24},
{"panel":"inset","series":"red 0%","seg":"a","f":3021,"v":3.4e-24},
{"panel":"inset","series":"red 0%","seg":"a","f":3247,"v":3.1e-24},
{"panel":"inset","series":"red 0%","seg":"a","f":3428,"v":2.77e-24},
{"panel":"inset","series":"red 0%","seg":"a","f":3553,"v":2.5e-24},
{"panel":"inset","series":"red 0%","seg":"b","f":4827,"v":2.5e-24},
{"panel":"inset","series":"red 0%","seg":"b","f":4959,"v":3.22e-24},
{"panel":"inset","series":"red 0%","seg":"b","f":5095,"v":4.19e-24},
{"panel":"inset","series":"red 0%","seg":"b","f":5235,"v":5.26e-24},
{"panel":"inset","series":"red 0%","seg":"b","f":5379,"v":6.47e-24},
{"panel":"inset","series":"red 0%","seg":"b","f":5497,"v":7.3e-24},
{"panel":"inset","series":"red 10%","seg":"a","f":2800,"v":3.96e-24},
{"panel":"inset","series":"red 10%","seg":"a","f":3076,"v":3.81e-24},
{"panel":"inset","series":"red 10%","seg":"a","f":3367,"v":3.47e-24},
{"panel":"inset","series":"red 10%","seg":"a","f":3684,"v":3.1e-24},
{"panel":"inset","series":"red 10%","seg":"a","f":3959,"v":2.87e-24},
{"panel":"inset","series":"red 10%","seg":"a","f":4179,"v":2.84e-24},
{"panel":"inset","series":"red 10%","seg":"a","f":4333,"v":2.99e-24},
{"panel":"inset","series":"red 10%","seg":"a","f":4491,"v":3.47e-24},
{"panel":"inset","series":"red 10%","seg":"a","f":4656,"v":4.35e-24},
{"panel":"inset","series":"red 10%","seg":"a","f":4827,"v":5.46e-24},
{"panel":"inset","series":"red 10%","seg":"a","f":5004,"v":6.59e-24},
{"panel":"inset","series":"red 10%","seg":"a","f":5188,"v":7.3e-24},
{"panel":"inset","series":"red 20%","seg":"a","f":2800,"v":4.11e-24},
{"panel":"inset","series":"red 20%","seg":"a","f":3490,"v":3.96e-24},
{"panel":"inset","series":"red 20%","seg":"a","f":3819,"v":3.96e-24},
{"panel":"inset","series":"red 20%","seg":"a","f":4105,"v":4.11e-24},
{"panel":"inset","series":"red 20%","seg":"a","f":4255,"v":4.27e-24},
{"panel":"inset","series":"red 20%","seg":"a","f":4491,"v":4.88e-24},
{"panel":"inset","series":"red 20%","seg":"a","f":4827,"v":6.11e-24},
{"panel":"inset","series":"red 20%","seg":"a","f":5049,"v":7.3e-24},
{"panel":"inset","series":"red 30%","seg":"a","f":2800,"v":5.06e-24},
{"panel":"inset","series":"red 30%","seg":"a","f":3190,"v":5.0e-24},
{"panel":"inset","series":"red 30%","seg":"a","f":3684,"v":5.06e-24},
{"panel":"inset","series":"red 30%","seg":"a","f":3959,"v":5.26e-24},
{"panel":"inset","series":"red 30%","seg":"a","f":4179,"v":5.67e-24},
{"panel":"inset","series":"red 30%","seg":"a","f":4372,"v":6.23e-24},
{"panel":"inset","series":"red 30%","seg":"a","f":4573,"v":6.85e-24},
{"panel":"inset","series":"red 30%","seg":"a","f":4723,"v":7.3e-24}
]
},
"spacing": 10,
"resolve": {"scale": {"color": "independent", "strokeDash": "independent"}},
"hconcat": [
{
  "width": 398, "height": 398,
  "title": {"text": "nondegenerate internal squeezing"},
  "encoding": {
    "x": {"field": "f", "type": "quantitative",
      "scale": {"type": "log", "domain": [2, 50000], "nice": false},
      "axis": {"title": "frequency / Hz", "values": [2,3,4,5,6,7,8,9,10,20,30,40,50,60,70,80,90,100,200,300,400,500,600,700,800,900,1000,2000,3000,4000,5000,6000,7000,8000,9000,10000,20000,30000,40000,50000],
        "labelExpr": "datum.value == 10 ? '10' : datum.value == 100 ? '100' : datum.value == 1000 ? '1000' : datum.value == 10000 ? '10⁴' : ''",
        "labelPadding": 14, "titlePadding": 9}},
    "y": {"field": "v", "type": "quantitative",
      "scale": {"type": "log", "domain": [1.44e-25, 3.22e-21], "nice": false},
      "axis": {"title": "sensitivity / Hz⁻¹⁄²", "values": [2e-25,3e-25,4e-25,5e-25,6e-25,7e-25,8e-25,9e-25,1e-24,2e-24,3e-24,4e-24,5e-24,6e-24,7e-24,8e-24,9e-24,1e-23,2e-23,3e-23,4e-23,5e-23,6e-23,7e-23,8e-23,9e-23,1e-22,2e-22,3e-22,4e-22,5e-22,6e-22,7e-22,8e-22,9e-22,1e-21,2e-21,3e-21],
        "labelExpr": "datum.value == 1e-21 ? '10⁻²¹' : datum.value == 1e-22 ? '10⁻²²' : datum.value == 1e-23 ? '10⁻²³' : datum.value == 1e-24 ? '10⁻²⁴' : ''",
        "labelPadding": 10, "titlePadding": 12}}
  },
  "layer": [
    {"data": {"name": "curves"},
     "transform": [{"filter": "datum.panel == 'nondegenerate' && indexof(datum.series, 'blue') == 0"}],
     "mark": {"type": "line", "strokeWidth": 2, "clip": true},
     "encoding": {
       "color": {"field": "series", "type": "nominal",
         "scale": {"domain": ["blue 0%","blue 10%","blue 20%","blue 30%","red 0%","red 10%","red 20%","red 30%"], "range": ["#0000ff","#3a3aff","#7b7bff","#b8b8ff","#ff0000","#ff2e2e","#ff7272","#ffb8b8"]},
         "legend": {"title": "detection loss", "values": ["red 0%","red 10%","red 20%","red 30%"], "labelExpr": "replace(datum.label, 'red ', '')", "legendX": 142, "legendY": 56, "symbolOffset": 28, "labelOffset": 11, "titlePadding": 13}},
       "strokeDash": {"field": "series", "type": "nominal",
         "scale": {"domain": ["blue 0%","blue 10%","blue 20%","blue 30%","red 0%","red 10%","red 20%","red 30%"], "range": [[1,0],[7,3],[7,3],[7,3],[1,0],[7,3],[7,3],[7,3]]},
         "legend": {"title": "detection loss", "values": ["red 0%","red 10%","red 20%","red 30%"], "labelExpr": "replace(datum.label, 'red ', '')", "legendX": 142, "legendY": 56, "symbolOffset": 28, "labelOffset": 11, "titlePadding": 13}}
     }},
    {"data": {"name": "curves"},
     "transform": [{"filter": "datum.panel == 'nondegenerate' && indexof(datum.series, 'red') == 0"}],
     "mark": {"type": "line", "strokeWidth": 2, "clip": true},
     "encoding": {
       "color": {"field": "series", "type": "nominal",
         "scale": {"domain": ["blue 0%","blue 10%","blue 20%","blue 30%","red 0%","red 10%","red 20%","red 30%"], "range": ["#0000ff","#3a3aff","#7b7bff","#b8b8ff","#ff0000","#ff2e2e","#ff7272","#ffb8b8"]},
         "legend": {"title": "detection loss", "values": ["red 0%","red 10%","red 20%","red 30%"], "labelExpr": "replace(datum.label, 'red ', '')", "legendX": 142, "legendY": 56, "symbolOffset": 28, "labelOffset": 11, "titlePadding": 13}},
       "strokeDash": {"field": "series", "type": "nominal",
         "scale": {"domain": ["blue 0%","blue 10%","blue 20%","blue 30%","red 0%","red 10%","red 20%","red 30%"], "range": [[1,0],[7,3],[7,3],[7,3],[1,0],[7,3],[7,3],[7,3]]},
         "legend": {"title": "detection loss", "values": ["red 0%","red 10%","red 20%","red 30%"], "labelExpr": "replace(datum.label, 'red ', '')", "legendX": 142, "legendY": 56, "symbolOffset": 28, "labelOffset": 11, "titlePadding": 13}}
     }},
    {"data": {"name": "arrows"},
     "mark": {"type": "rule", "color": "#000000", "strokeWidth": 3},
     "encoding": {"y2": {"field": "v2"}}},
    {"data": {"name": "arrows"},
     "transform": [{"filter": "datum.dir == 'down'"}],
     "mark": {"type": "point", "shape": "M-0.5,-2L0.5,-2L0,0Z", "size": 300, "filled": true, "color": "#000000", "opacity": 1, "strokeWidth": 0}},
    {"data": {"name": "arrows"},
     "transform": [{"filter": "datum.dir == 'up'"}],
     "mark": {"type": "point", "shape": "M-0.5,2L0.5,2L0,0Z", "size": 300, "filled": true, "color": "#000000", "opacity": 1, "strokeWidth": 0}},
    {"data": {"name": "notes"},
     "mark": {"type": "text", "fontSize": 17.5, "align": "center", "baseline": "middle", "color": "#000000"},
     "encoding": {"text": {"field": "label"}}}
  ]
},
{
  "width": 398, "height": 398,
  "title": {"text": "degenerate internal squeezing"},
  "layer": [
    {
      "encoding": {
        "x": {"field": "f", "type": "quantitative",
          "scale": {"type": "log", "domain": [2, 50000], "nice": false},
          "axis": {"title": "frequency / Hz", "values": [2,3,4,5,6,7,8,9,10,20,30,40,50,60,70,80,90,100,200,300,400,500,600,700,800,900,1000,2000,3000,4000,5000,6000,7000,8000,9000,10000,20000,30000,40000,50000],
            "labelExpr": "datum.value == 10 ? '10' : datum.value == 100 ? '100' : datum.value == 1000 ? '1000' : datum.value == 10000 ? '10⁴' : ''",
            "labelPadding": 14, "titlePadding": 9}},
        "y": {"field": "v", "type": "quantitative",
          "scale": {"type": "log", "domain": [1.44e-25, 3.22e-21], "nice": false},
          "axis": {"title": null, "labels": false, "values": [2e-25,3e-25,4e-25,5e-25,6e-25,7e-25,8e-25,9e-25,1e-24,2e-24,3e-24,4e-24,5e-24,6e-24,7e-24,8e-24,9e-24,1e-23,2e-23,3e-23,4e-23,5e-23,6e-23,7e-23,8e-23,9e-23,1e-22,2e-22,3e-22,4e-22,5e-22,6e-22,7e-22,8e-22,9e-22,1e-21,2e-21,3e-21]}}
      },
      "layer": [
        {"data": {"name": "curves"},
         "transform": [{"filter": "datum.panel == 'degenerate' && indexof(datum.series, 'blue') == 0"}],
         "mark": {"type": "line", "strokeWidth": 2, "clip": true},
         "encoding": {
           "color": {"field": "series", "type": "nominal",
             "scale": {"domain": ["blue 0%","blue 10%","blue 20%","blue 30%","red 0%","red 10%","red 20%","red 30%"], "range": ["#0000ff","#3a3aff","#7b7bff","#b8b8ff","#ff0000","#ff2e2e","#ff7272","#ffb8b8"]},
             "legend": {"title": "detection loss", "values": ["red 0%","red 10%","red 20%","red 30%"], "labelExpr": "replace(datum.label, 'red ', '')", "legendX": 144.3, "legendY": 105.5, "symbolOffset": 23, "labelOffset": 12, "titlePadding": 4}},
           "strokeDash": {"field": "series", "type": "nominal",
             "scale": {"domain": ["blue 0%","blue 10%","blue 20%","blue 30%","red 0%","red 10%","red 20%","red 30%"], "range": [[1,0],[7,3],[7,3],[7,3],[1,0],[7,3],[7,3],[7,3]]},
             "legend": {"title": "detection loss", "values": ["red 0%","red 10%","red 20%","red 30%"], "labelExpr": "replace(datum.label, 'red ', '')", "legendX": 144.3, "legendY": 105.5, "symbolOffset": 23, "labelOffset": 12, "titlePadding": 4}}
         }},
        {"data": {"name": "curves"},
         "transform": [{"filter": "datum.panel == 'degenerate' && indexof(datum.series, 'red') == 0"}],
         "mark": {"type": "line", "strokeWidth": 2, "clip": true},
         "encoding": {
           "color": {"field": "series", "type": "nominal",
             "scale": {"domain": ["blue 0%","blue 10%","blue 20%","blue 30%","red 0%","red 10%","red 20%","red 30%"], "range": ["#0000ff","#3a3aff","#7b7bff","#b8b8ff","#ff0000","#ff2e2e","#ff7272","#ffb8b8"]},
             "legend": {"title": "detection loss", "values": ["red 0%","red 10%","red 20%","red 30%"], "labelExpr": "replace(datum.label, 'red ', '')", "legendX": 144.3, "legendY": 105.5, "symbolOffset": 23, "labelOffset": 12, "titlePadding": 4}},
           "strokeDash": {"field": "series", "type": "nominal",
             "scale": {"domain": ["blue 0%","blue 10%","blue 20%","blue 30%","red 0%","red 10%","red 20%","red 30%"], "range": [[1,0],[7,3],[7,3],[7,3],[1,0],[7,3],[7,3],[7,3]]},
             "legend": {"title": "detection loss", "values": ["red 0%","red 10%","red 20%","red 30%"], "labelExpr": "replace(datum.label, 'red ', '')", "legendX": 144.3, "legendY": 105.5, "symbolOffset": 23, "labelOffset": 12, "titlePadding": 4}}
         }}
      ]
    },
    {
      "encoding": {
        "x": {"field": "f", "type": "quantitative", "scale": {"type": "log", "domain": [2800, 5700], "range": [134.3, 265.7], "nice": false}, "axis": null},
        "y": {"field": "v", "type": "quantitative", "scale": {"type": "log", "domain": [2.5e-24, 7.3e-24], "range": [376.5, 281.8], "nice": false}, "axis": null}
      },
      "layer": [
        {"data": {"name": "insetframe"},
         "mark": {"type": "rect", "fill": "#ffffff", "stroke": "#666666", "strokeWidth": 1},
         "encoding": {"x2": {"field": "f2"}, "y2": {"field": "v2"}}},
        {"data": {"name": "curves"},
         "transform": [{"filter": "datum.panel == 'inset' && indexof(datum.series, 'blue') == 0"}],
         "mark": {"type": "line", "strokeWidth": 4.5},
         "encoding": {
           "detail": {"field": "seg"},
           "color": {"field": "series", "type": "nominal", "legend": null,
             "scale": {"domain": ["blue 0%","blue 10%","blue 20%","blue 30%","red 0%","red 10%","red 20%","red 30%"], "range": ["#0000ff","#3a3aff","#7b7bff","#b8b8ff","#ff0000","#ff2e2e","#ff7272","#ffb8b8"]}},
           "strokeDash": {"field": "series", "type": "nominal", "legend": null,
             "scale": {"domain": ["blue 0%","blue 10%","blue 20%","blue 30%","red 0%","red 10%","red 20%","red 30%"], "range": [[1,0],[12,5],[12,5],[12,5],[1,0],[12,5],[12,5],[12,5]]}}
         }},
        {"data": {"name": "curves"},
         "transform": [{"filter": "datum.panel == 'inset' && indexof(datum.series, 'red') == 0"}],
         "mark": {"type": "line", "strokeWidth": 4.5},
         "encoding": {
           "detail": {"field": "seg"},
           "color": {"field": "series", "type": "nominal", "legend": null,
             "scale": {"domain": ["blue 0%","blue 10%","blue 20%","blue 30%","red 0%","red 10%","red 20%","red 30%"], "range": ["#0000ff","#3a3aff","#7b7bff","#b8b8ff","#ff0000","#ff2e2e","#ff7272","#ffb8b8"]}},
           "strokeDash": {"field": "series", "type": "nominal", "legend": null,
             "scale": {"domain": ["blue 0%","blue 10%","blue 20%","blue 30%","red 0%","red 10%","red 20%","red 30%"], "range": [[1,0],[12,5],[12,5],[12,5],[1,0],[12,5],[12,5],[12,5]]}}
         }}
      ]
    }
  ],
  "resolve": {"scale": {"x": "independent", "y": "independent", "color": "independent", "strokeDash": "independent"}}
}
]
}
